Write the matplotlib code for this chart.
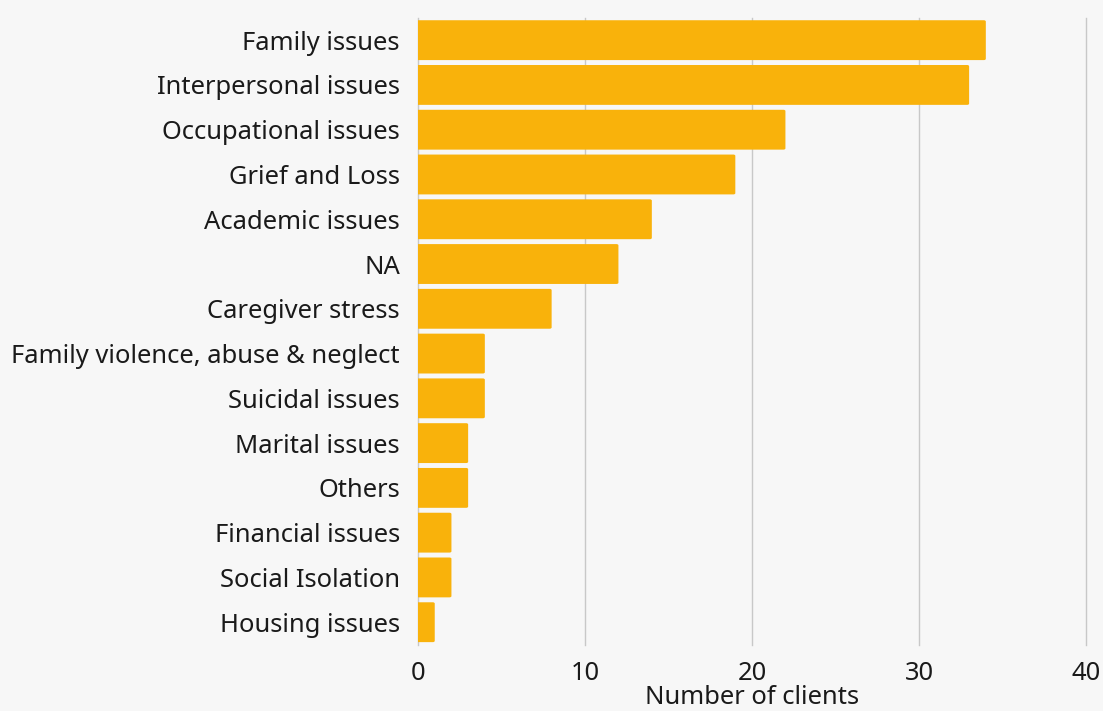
import matplotlib.pyplot as plt
from matplotlib.patches import FancyBboxPatch

plt.rcParams['font.family'] = ['Noto Sans', 'DejaVu Sans']

categories = ["Family issues", "Interpersonal issues", "Occupational issues",
              "Grief and Loss", "Academic issues", "NA", "Caregiver stress",
              "Family violence, abuse & neglect", "Suicidal issues",
              "Marital issues", "Others", "Financial issues",
              "Social Isolation", "Housing issues"]
clients = [34, 33, 22, 19, 14, 12, 8, 4, 4, 3, 3, 2, 2, 1]

bg = "#f7f7f7"
bar_color = "#f9b20b"
fs = 18.4

fig = plt.figure(figsize=(11.03, 7.11), dpi=100, facecolor=bg)
ax = fig.add_axes([0.379, 0.0934, 0.6056, 0.8816], facecolor=bg)

ypos = list(range(len(categories)))
bars = ax.barh(ypos, clients, height=0.89, color=bar_color, zorder=3)

# replace plain bars with ones rounded at the right end;
# the box starts left of the axes so its left corners get clipped off
for b in bars:
    x, y = b.get_x(), b.get_y()
    w, h = b.get_width(), b.get_height()
    b.set_visible(False)
    ax.add_patch(FancyBboxPatch((x - 1, y), w + 1, h,
                                boxstyle="round,pad=0,rounding_size=0.12",
                                mutation_aspect=1 / 4.2,
                                facecolor=bar_color, edgecolor="none", zorder=3))

ax.set_xlim(0, 40)
ax.set_ylim(len(categories) - 0.5, -0.5)
ax.set_yticks(ypos)
ax.set_yticklabels(categories, fontsize=fs, color="#1a1a1a")
ax.set_xticks([0, 10, 20, 30, 40])
ax.tick_params(axis="x", labelsize=fs, colors="#1a1a1a", length=0, pad=12)
ax.tick_params(axis="y", length=0, pad=13)
ax.xaxis.grid(True, color="#c8c8c8", linewidth=1, zorder=0)
for gl in ax.get_xgridlines():
    gl.set_clip_on(False)
for s in ax.spines.values():
    s.set_visible(False)
ax.set_xlabel("Number of clients", fontsize=fs, color="#1a1a1a", labelpad=-1)

fig.savefig("out.png", dpi=100, facecolor=bg)
